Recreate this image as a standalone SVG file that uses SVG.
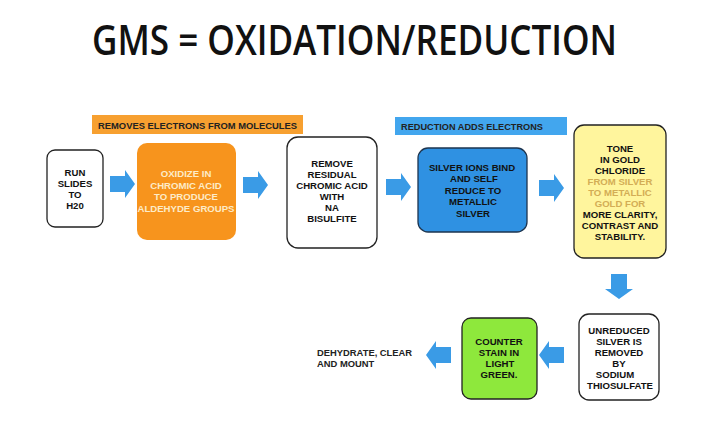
<svg xmlns="http://www.w3.org/2000/svg" width="720" height="429" viewBox="0 0 720 429">
<defs>
<style>
.t{font-family:"Liberation Sans",Arial,sans-serif;font-weight:bold;font-size:9.6px;text-anchor:middle;fill:#111}
.lbl{font-family:"Liberation Sans",Arial,sans-serif;font-weight:bold;font-size:9.2px;fill:#222}
.box{stroke:#222;stroke-width:1.3}
.arr{fill:#3a9be6}
</style>
<path id="ar" d="M0,-8 H15 V-14 L25,0 L15,14 V8 H0 Z"/>
</defs>
<rect width="720" height="429" fill="#fff"/>
<text x="354.5" y="55" font-family="'Open Sans','Noto Sans',sans-serif" font-size="41" font-weight="600" fill="#111" text-anchor="middle" textLength="525" lengthAdjust="spacingAndGlyphs">GMS = OXIDATION/REDUCTION</text>

<g id="label-oxidation">
<rect x="92" y="115" width="211" height="19" fill="#f7a030"/>
<text class="lbl" x="98" y="128.5" textLength="199" lengthAdjust="spacingAndGlyphs">REMOVES ELECTRONS FROM MOLECULES</text>
</g>
<g id="label-reduction">
<rect x="395" y="117" width="172" height="18" fill="#42a6ee"/>
<text class="lbl" x="401" y="130" textLength="142" lengthAdjust="spacingAndGlyphs">REDUCTION ADDS ELECTRONS</text>
</g>

<g id="node-run">
<rect class="box" x="47" y="150" width="56" height="77" rx="8" fill="#fff"/>
<text class="t" x="75" y="175.5">RUN</text>
<text class="t" x="75" y="186.5">SLIDES</text>
<text class="t" x="75" y="197.5">TO</text>
<text class="t" x="75" y="208.5">H20</text>
</g>
<g id="node-oxidize">
<rect x="137" y="143" width="99" height="97" rx="10" fill="#f7941d"/>
<text class="t" x="186" y="177" style="fill:#fdebc8">OXIDIZE IN</text>
<text class="t" x="186" y="188.5" style="fill:#fdebc8">CHROMIC ACID</text>
<text class="t" x="186" y="200" style="fill:#fdebc8">TO PRODUCE</text>
<text class="t" x="186" y="211.5" style="fill:#fdebc8">ALDEHYDE GROUPS</text>
</g>
<g id="node-remove">
<rect class="box" x="287" y="137" width="90" height="111" rx="11" fill="#fff"/>
<text class="t" x="332" y="166.5">REMOVE</text>
<text class="t" x="332" y="177.5">RESIDUAL</text>
<text class="t" x="332" y="188.5">CHROMIC ACID</text>
<text class="t" x="332" y="199.5">WITH</text>
<text class="t" x="332" y="210.5">NA</text>
<text class="t" x="332" y="221.5">BISULFITE</text>
</g>
<g id="node-silver">
<rect class="box" x="418" y="148" width="109" height="84" rx="10" fill="#2f91e2" style="stroke:#1d3550"/>
<text class="t" x="472" y="170.5">SILVER IONS BIND</text>
<text class="t" x="474" y="182">AND SELF</text>
<text class="t" x="473" y="193.5">REDUCE TO</text>
<text class="t" x="473" y="205">METALLIC</text>
<text class="t" x="473" y="216.5">SILVER</text>
</g>
<g id="node-tone">
<rect class="box" x="574" y="125" width="92" height="133" rx="10" fill="#fff59d"/>
<text class="t" x="620" y="151.5">TONE</text>
<text class="t" x="620" y="162.5">IN GOLD</text>
<text class="t" x="620" y="173.5">CHLORIDE</text>
<text class="t" x="620" y="184.5" style="fill:#d3ad55">FROM SILVER</text>
<text class="t" x="620" y="195.5" style="fill:#d3ad55">TO METALLIC</text>
<text class="t" x="620" y="206.5" style="fill:#d3ad55">GOLD FOR</text>
<text class="t" x="620" y="217.5">MORE CLARITY,</text>
<text class="t" x="620" y="228.5">CONTRAST AND</text>
<text class="t" x="620" y="239.5">STABILITY.</text>
</g>
<g id="node-unreduced">
<rect class="box" x="579" y="314" width="80" height="86" rx="10" fill="#fff"/>
<text class="t" x="619" y="333.5">UNREDUCED</text>
<text class="t" x="619" y="344.5">SILVER IS</text>
<text class="t" x="619" y="355.5">REMOVED</text>
<text class="t" x="619" y="366.5">BY</text>
<text class="t" x="615" y="377.5">SODIUM</text>
<text class="t" x="620" y="388.5">THIOSULFATE</text>
</g>
<g id="node-counter">
<rect class="box" x="462" y="318" width="75" height="81" rx="9" fill="#8ee83c"/>
<text class="t" x="499" y="344.5">COUNTER</text>
<text class="t" x="499" y="355.5">STAIN IN</text>
<text class="t" x="500" y="366.5">LIGHT</text>
<text class="t" x="499" y="377.5">GREEN.</text>
</g>
<g id="node-dehydrate">
<text class="lbl" x="317" y="356" style="font-size:9.4px">DEHYDRATE, CLEAR</text>
<text class="lbl" x="317" y="367" style="font-size:9.4px">AND MOUNT</text>
</g>

<g id="connectors">
<use href="#ar" class="arr" transform="translate(110,184)"/>
<use href="#ar" class="arr" transform="translate(243,185)"/>
<use href="#ar" class="arr" transform="translate(386,187)"/>
<use href="#ar" class="arr" transform="translate(539,188)"/>
<use href="#ar" class="arr" transform="translate(619,274) rotate(90)"/>
<use href="#ar" class="arr" transform="translate(564,355) rotate(180)"/>
<use href="#ar" class="arr" transform="translate(451,355) rotate(180)"/>
</g>
</svg>
